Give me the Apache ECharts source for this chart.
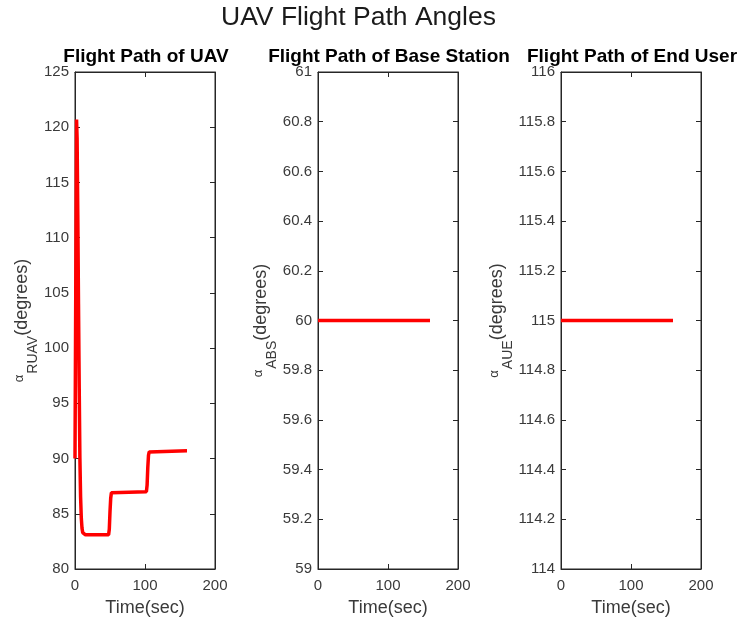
<!DOCTYPE html>
<html>
<head>
<meta charset="utf-8">
<script src="https://cdn.jsdelivr.net/npm/echarts@6/dist/echarts.min.js"></script>
<style>html,body{margin:0;padding:0;background:#fff;}#c{width:741px;height:626px;}</style>
</head>
<body>
<div id="c"></div>
<script>
// ---- data ----
var mainTitle = 'UAV Flight Path Angles';
var subTitles = ['Flight Path of UAV', 'Flight Path of Base Station', 'Flight Path of End User'];
var yNames = ['RUAV', 'ABS', 'AUE'];
var xTicks = [0, 100, 200];

var uavTime  = [0, 2.2, 3, 4, 5, 6, 7, 8, 9, 10, 11, 12, 15, 48, 49, 50, 51, 52, 54, 102, 103, 104, 105, 106, 108, 160];
var uavAngle = [90, 120.7, 119, 112, 104, 96.5, 90, 86.5, 84.6, 83.7, 83.3, 83.15, 83.1, 83.1, 83.6, 85.2, 86.4, 86.9, 87, 87, 87.6, 89.2, 90.3, 90.6, 90.7, 90.7];

var bsTime  = [0, 160];
var bsAngle = [60, 60];

var ueTime  = [0, 160];
var ueAngle = [115, 115];

var yMin = [80, 59, 114];
var yMax = [125, 61, 116];
var yInterval = [5, 0.2, 0.2];

// ---- chart ----
var FONT = 'Liberation Sans';
var AX = '#262626';
var TXT = '#3a3a3a';
var lefts = [75, 318, 561];
var W = 140, TOP = 72, H = 497;
var nameGaps = [31, 36, 42];

function fmt(v) { var r = Math.round(v * 10) / 10; return String(r); }

function pairs(t, a) { return t.map(function (x, i) { return [x, a[i]]; }); }
var seriesData = [pairs(uavTime, uavAngle), pairs(bsTime, bsAngle), pairs(ueTime, ueAngle)];

var grids = [], xAxes = [], yAxes = [], series = [], graphics = [];
graphics.push({
  type: 'text', x: 358.5, y: 18, silent: true,
  style: { text: mainTitle, textAlign: 'center', textVerticalAlign: 'middle', font: 'normal 26.5px "Liberation Sans"', fill: '#1a1a1a' }
});
function tick() { return { show: true, inside: true, length: 5, lineStyle: { color: AX, width: 1 } }; }
function line() { return { show: true, onZero: false, lineStyle: { color: AX, width: 1 } }; }
for (var i = 0; i < 3; i++) {
  grids.push({ left: lefts[i], top: TOP, width: W, height: H, show: true, borderColor: AX, borderWidth: 1, backgroundColor: '#fff' });
  graphics.push({
    type: 'text', x: lefts[i] + W / 2 + 1, y: 57, silent: true,
    style: { text: subTitles[i], textAlign: 'center', textVerticalAlign: 'middle', font: 'bold 19px "Liberation Sans"', fill: '#000' }
  });
  xAxes.push({
    type: 'value', gridIndex: i, position: 'bottom', min: xTicks[0], max: xTicks[xTicks.length - 1], interval: xTicks[1] - xTicks[0],
    name: 'Time(sec)', nameLocation: 'middle', nameGap: 30,
    nameTextStyle: { fontFamily: FONT, fontSize: 18, color: TXT },
    axisLine: line(), axisTick: tick(),
    axisLabel: { fontFamily: FONT, fontSize: 15, color: TXT, margin: 9 },
    splitLine: { show: false }
  });
  xAxes.push({
    type: 'value', gridIndex: i, position: 'top', min: xTicks[0], max: xTicks[xTicks.length - 1], interval: xTicks[1] - xTicks[0],
    axisLine: line(), axisTick: tick(),
    axisLabel: { show: false }, splitLine: { show: false }
  });
  yAxes.push({
    type: 'value', gridIndex: i, position: 'left', min: yMin[i], max: yMax[i], interval: yInterval[i],
    name: '{d|\u200b}{a|α}{b|' + yNames[i] + '}{c|(degrees)}', nameLocation: 'middle', nameGap: nameGaps[i], nameRotate: 90,
    nameTextStyle: {
      color: TXT,
      rich: {
        d: { fontFamily: FONT, fontSize: 4, lineHeight: 27, verticalAlign: 'top', color: 'rgba(0,0,0,0)' },
        a: { fontFamily: FONT, fontSize: 13, lineHeight: 25, verticalAlign: 'top', color: TXT, padding: [0, 1, 0, 0] },
        b: { fontFamily: FONT, fontSize: 14, lineHeight: 20, verticalAlign: 'bottom', color: TXT },
        c: { fontFamily: FONT, fontSize: 18, lineHeight: 20, verticalAlign: 'top', color: TXT }
      }
    },
    axisLine: line(), axisTick: tick(),
    axisLabel: { fontFamily: FONT, fontSize: 15, color: TXT, margin: 6, formatter: fmt },
    splitLine: { show: false }
  });
  yAxes.push({
    type: 'value', gridIndex: i, position: 'right', min: yMin[i], max: yMax[i], interval: yInterval[i],
    axisLine: line(), axisTick: tick(),
    axisLabel: { show: false }, splitLine: { show: false }
  });
  series.push({
    type: 'line', xAxisIndex: 2 * i, yAxisIndex: 2 * i, data: seriesData[i],
    showSymbol: false, symbol: 'none', smooth: false,
    lineStyle: { color: '#ff0000', width: 3.5 }, z: 3, animation: false
  });
}

var chart = echarts.init(document.getElementById('c'), null, { renderer: 'canvas' });
chart.setOption({
  animation: false,
  backgroundColor: '#ffffff',
  graphic: graphics,
  grid: grids,
  xAxis: xAxes,
  yAxis: yAxes,
  series: series
});
</script>
</body>
</html>
